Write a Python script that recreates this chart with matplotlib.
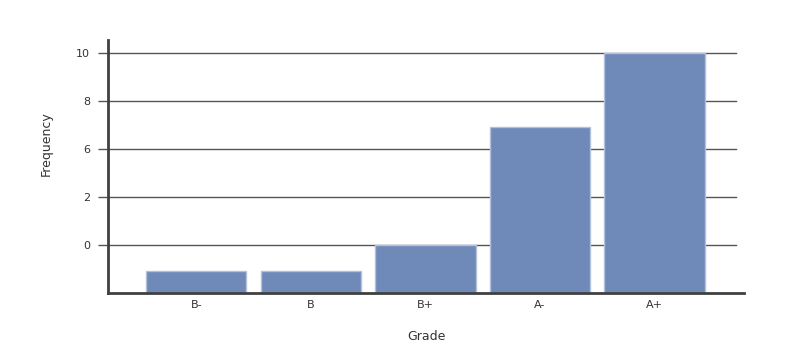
import numpy as np
import matplotlib
matplotlib.use('Agg')
import matplotlib.pyplot as plt

# grades and how many students got each one
grades = ['B-', 'B', 'B+', 'A-', 'A+']
freq = [0.9, 0.9, 2, 6.9, 10]

# the y labels on the original chart don't follow the gridlines, keep them as drawn
ytick_pos = [2, 4, 6, 8, 10]
ytick_lab = ['0', '2', '6', '8', '10']

bar_col = '#6f89b9'
edge_col = '#b3c1dd'
grid_col = '#555555'
axis_col = '#404040'
text_col = '#333333'

fig = plt.figure(figsize=(7.88, 3.51), dpi=100)
ax = fig.add_axes([108/788, 58/351, 636/788, 253/351])

x = np.arange(len(grades))

for y in ytick_pos:
    ax.axhline(y, xmin=0, xmax=0.987, color=grid_col, linewidth=1.0, zorder=1)

ax.bar(x, freq, width=0.875, color=bar_col, edgecolor=edge_col, linewidth=1.0, zorder=2)

ax.set_xlim(-0.77, 4.78)
ax.set_ylim(0, 10.54)

ax.set_xticks(x)
ax.set_xticklabels(grades, fontsize=8, color=text_col)
ax.set_yticks(ytick_pos)
ax.set_yticklabels(ytick_lab, fontsize=8, color=text_col)

ax.tick_params(axis='x', length=0, pad=5)
ax.tick_params(axis='y', length=7, width=1.0, color=grid_col, pad=6)

for s in ['top', 'right']:
    ax.spines[s].set_visible(False)
for s in ['left', 'bottom']:
    ax.spines[s].set_color(axis_col)
    ax.spines[s].set_linewidth(2)
    ax.spines[s].set_zorder(3)

ax.set_xlabel('Grade', fontsize=9, color=text_col)
ax.set_ylabel('Frequency', fontsize=9, color=text_col)
ax.xaxis.set_label_coords(0.5, -0.146)
ax.yaxis.set_label_coords(-0.0865, 0.589)

fig.savefig('out.png', dpi=100)
